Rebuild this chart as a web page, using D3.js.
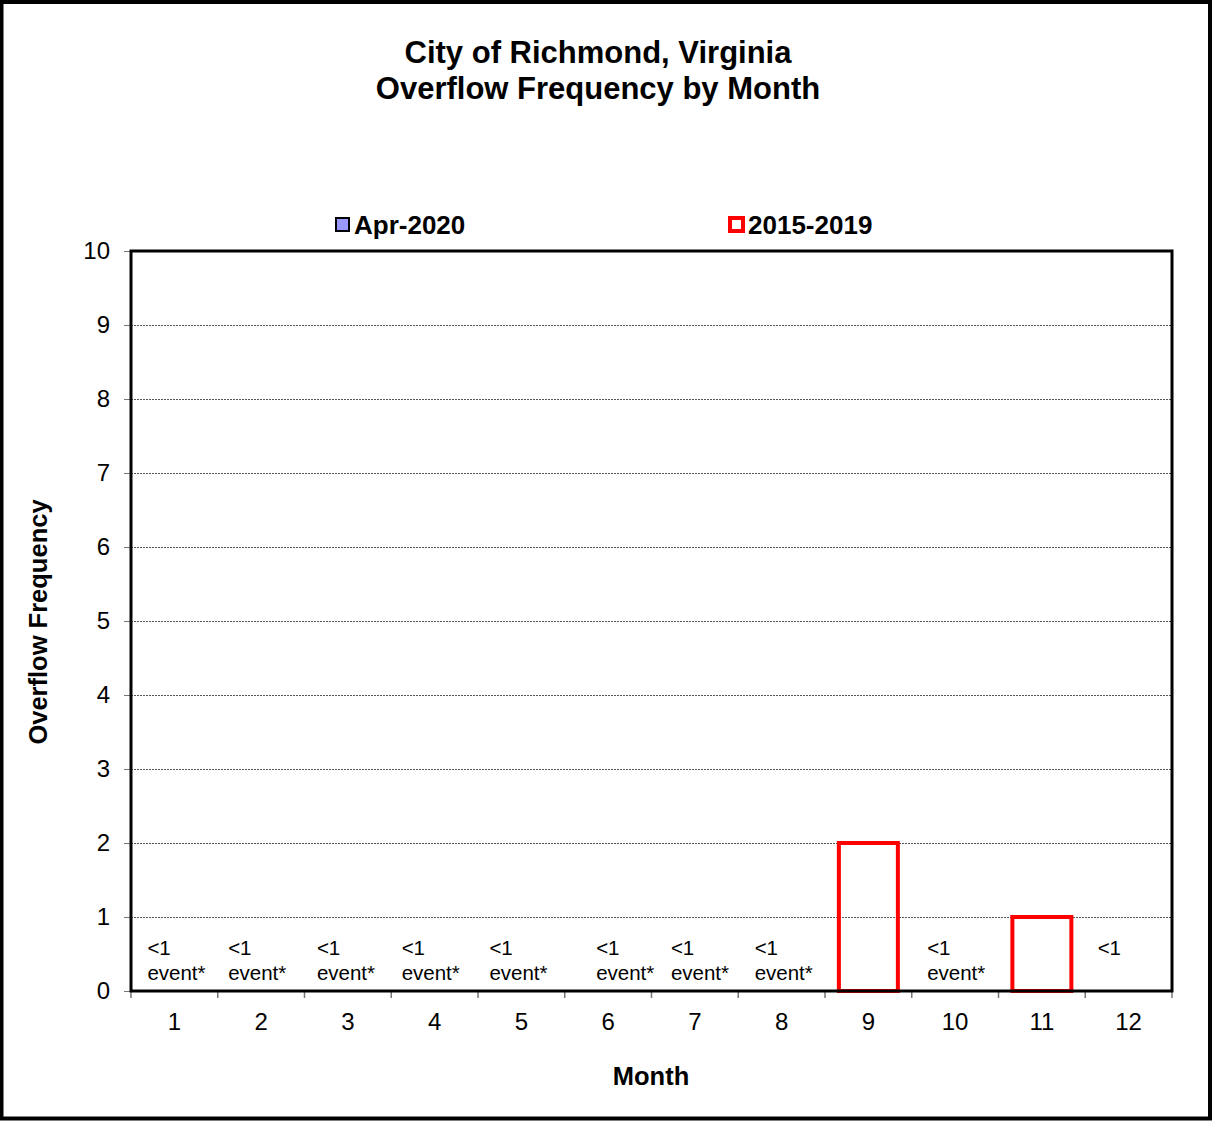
<!DOCTYPE html>
<html>
<head>
<meta charset="utf-8">
<script src="https://cdn.jsdelivr.net/npm/d3@7"></script>
<style>
  body { margin: 0; background: #fff; }
  svg { display: block; font-family: 'Liberation Sans', Arial, sans-serif; }
</style>
</head>
<body>
<svg id="chart"></svg>
<script>
let d3 = window.d3

// data
let months = ['1', '2', '3', '4', '5', '6', '7', '8', '9', '10', '11', '12']
let apr2020 = [0, 0, 0, 0, 0, 0, 0, 0, 0, 0, 0, 0]
let avg20152019 = [0, 0, 0, 0, 0, 0, 0, 0, 2, 0, 1, 0]
let pointLabels = ['<1\nevent*', '<1\nevent*', '<1\nevent*', '<1\nevent*', '<1\nevent*', '<1\nevent*',
  '<1\nevent*', '<1\nevent*', '', '<1\nevent*', '', '<1']
let yTicks = [0, 1, 2, 3, 4, 5, 6, 7, 8, 9, 10]

// small horizontal nudges the original labels had
let labelNudge = [2, -4, -2, -4, -3, 17, 5, 2, 0, 1, 0, -2]

let W = 1212
let H = 1121
let margin = { left: 131, right: 40, top: 251, bottom: 130 }
let width = W - margin.left - margin.right
let height = H - margin.top - margin.bottom

let svg = d3.select('#chart')
  .attr('width', W)
  .attr('height', H)

// outer frame
svg.append('rect')
  .attr('x', 1.5).attr('y', 2)
  .attr('width', W - 3.5).attr('height', H - 4.5)
  .attr('fill', '#fff')
  .attr('stroke', '#000')
  .attr('stroke-width', 4)

let x = d3.scaleBand()
  .domain(months)
  .range([0, width])
  .paddingInner(0.32)
  .paddingOuter(0.16)

let xCat = d3.scaleBand()
  .domain(months)
  .range([0, width])

let y = d3.scaleLinear()
  .domain([0, 10])
  .range([height, 0])

let g = svg.append('g')
  .attr('transform', 'translate(' + margin.left + ',' + margin.top + ')')

// gridlines
g.append('g')
  .selectAll('line')
  .data(yTicks.filter(function (d) { return d > 0 && d < 10 }))
  .enter().append('line')
  .attr('x1', 0).attr('x2', width)
  .attr('y1', function (d) { return Math.round(y(d)) + 0.5 })
  .attr('y2', function (d) { return Math.round(y(d)) + 0.5 })
  .attr('stroke', '#555')
  .attr('stroke-width', 1)
  .attr('stroke-dasharray', '2,1')

// y axis
let yAxis = d3.axisLeft(y).tickValues(yTicks).tickSize(7).tickPadding(14)
let yg = g.append('g').call(yAxis)
yg.select('.domain').remove()
yg.selectAll('.tick line').attr('stroke', '#777')
yg.selectAll('.tick text')
  .attr('font-size', 24)
  .attr('fill', '#000')
  .style('font-family', 'Liberation Sans, Arial, sans-serif')

// x axis ticks at category boundaries
let xBounds = months.map(function (m) { return xCat(m) }).concat([width])
g.append('g')
  .selectAll('line')
  .data(xBounds)
  .enter().append('line')
  .attr('x1', function (d) { return d }).attr('x2', function (d) { return d })
  .attr('y1', height).attr('y2', height + 7)
  .attr('stroke', '#777')
  .attr('stroke-width', 1.5)

g.append('g')
  .selectAll('text')
  .data(months)
  .enter().append('text')
  .attr('x', function (d) { return xCat(d) + xCat.bandwidth() / 2 })
  .attr('y', height + 39)
  .attr('text-anchor', 'middle')
  .attr('font-size', 24)
  .text(function (d) { return d })

// Apr-2020 bars (all zero)
g.append('g')
  .selectAll('rect')
  .data(apr2020.map(function (v, i) { return { m: months[i], v: v } }).filter(function (d) { return d.v > 0 }))
  .enter().append('rect')
  .attr('x', function (d) { return x(d.m) })
  .attr('y', function (d) { return y(d.v) })
  .attr('width', x.bandwidth())
  .attr('height', function (d) { return y(0) - y(d.v) })
  .attr('fill', '#9999ff')
  .attr('stroke', '#000')

// 2015-2019 bars, red outline
g.append('g')
  .selectAll('rect')
  .data(avg20152019.map(function (v, i) { return { m: months[i], v: v } }).filter(function (d) { return d.v > 0 }))
  .enter().append('rect')
  .attr('x', function (d) { return x(d.m) })
  .attr('y', function (d) { return y(d.v) })
  .attr('width', x.bandwidth())
  .attr('height', function (d) { return y(0) - y(d.v) })
  .attr('fill', 'none')
  .attr('stroke', '#ff0000')
  .attr('stroke-width', 4)

// point labels
let lbl = g.append('g')
  .selectAll('text')
  .data(pointLabels.map(function (t, i) { return { m: months[i], t: t, i: i } }).filter(function (d) { return d.t }))
  .enter().append('text')
  .attr('font-size', 20.5)
  .attr('fill', '#000')
  .attr('x', function (d) { return xCat(d.m) + xCat.bandwidth() / 2 - 29 + labelNudge[d.i] })
  .attr('y', y(0) - 36)

lbl.selectAll('tspan')
  .data(function (d) { return d.t.split('\n').map(function (s) { return { s: s, x: xCat(d.m) + xCat.bandwidth() / 2 - 29 + labelNudge[d.i] } }) })
  .enter().append('tspan')
  .attr('x', function (d) { return d.x })
  .attr('dy', function (d, i) { return i === 0 ? 0 : 25 })
  .text(function (d) { return d.s })

// plot frame
g.append('rect')
  .attr('x', 0).attr('y', 0)
  .attr('width', width).attr('height', height)
  .attr('fill', 'none')
  .attr('stroke', '#000')
  .attr('stroke-width', 3)

// title
let title = svg.append('text')
  .attr('text-anchor', 'middle')
  .attr('font-size', 31)
  .attr('font-weight', 'bold')
title.append('tspan').attr('x', 598).attr('y', 63).text('City of Richmond, Virginia')
title.append('tspan').attr('x', 598).attr('y', 99).text('Overflow Frequency by Month')

// axis titles
svg.append('text')
  .attr('x', 651).attr('y', 1085)
  .attr('text-anchor', 'middle')
  .attr('font-size', 25.5)
  .attr('font-weight', 'bold')
  .text('Month')

svg.append('text')
  .attr('transform', 'translate(47,622) rotate(-90)')
  .attr('text-anchor', 'middle')
  .attr('font-size', 25.5)
  .attr('font-weight', 'bold')
  .text('Overflow Frequency')

// legend
let legend = svg.append('g')
legend.append('rect')
  .attr('x', 336).attr('y', 218).attr('width', 13).attr('height', 13)
  .attr('fill', '#9999ff').attr('stroke', '#000').attr('stroke-width', 2)
legend.append('text')
  .attr('x', 354).attr('y', 234)
  .attr('font-size', 26).attr('font-weight', 'bold')
  .text('Apr-2020')
legend.append('rect')
  .attr('x', 730).attr('y', 218).attr('width', 13).attr('height', 13)
  .attr('fill', '#fff').attr('stroke', '#ff0000').attr('stroke-width', 4)
legend.append('text')
  .attr('x', 748).attr('y', 234)
  .attr('font-size', 26).attr('font-weight', 'bold')
  .text('2015-2019')
</script>
</body>
</html>
